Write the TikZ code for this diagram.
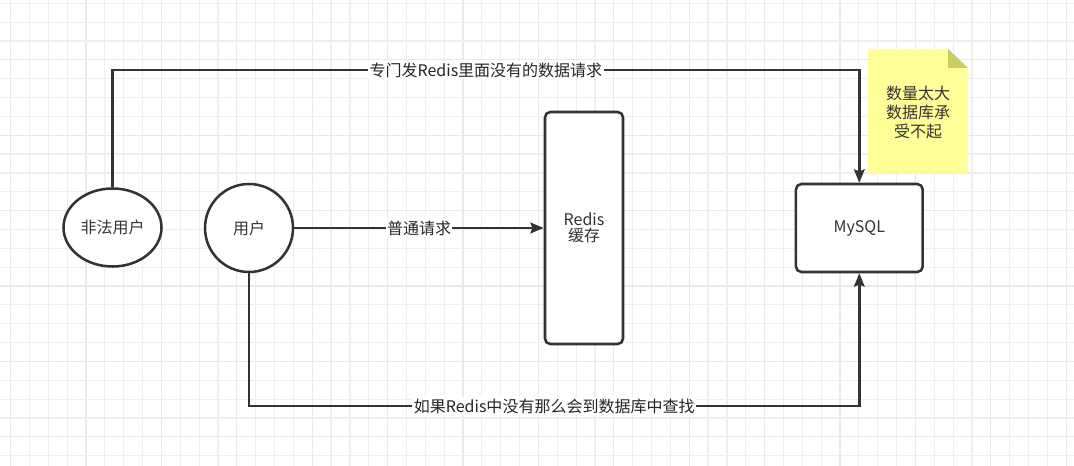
\documentclass[tikz,border=0pt]{standalone}
\usepackage{fontspec}
\setmainfont{Noto Sans CJK SC}
\usetikzlibrary{arrows.meta,shapes.geometric,calc}
\definecolor{ln}{HTML}{333333}
\definecolor{gridl}{HTML}{EEEEEE}
\definecolor{gridd}{HTML}{E9E9E9}
\definecolor{notey}{HTML}{FFFF99}
\definecolor{notef}{HTML}{CCCC66}
\begin{document}
\begin{tikzpicture}[x=0.75pt,y=-0.75pt,
  conn/.style={draw=ln, line width=1.9pt, -{Stealth[length=10pt,width=8pt,inset=1.5pt]}},
  lbl/.style={fill=white, inner sep=1pt, font=\fontsize{12}{14}\selectfont, text=black!85},
  shp/.style={draw=ln, line width=1.9pt, fill=white, inner sep=0pt, text=ln, font=\fontsize{12}{14}\selectfont, align=center},
  userell/.style={shp, ellipse},
  boxr/.style={shp, rectangle, rounded corners=4pt}
]
\useasboundingbox (0,0) rectangle (1074,466);
\fill[white] (0,0) rectangle (1074,466);
% grid
\foreach \k in {0,...,56}{
  \pgfmathsetmacro{\xx}{10.6+18.85*\k}
  \pgfmathtruncatemacro{\m}{mod(\k,4)}
  \ifnum\m=0 \draw[gridd, line width=0.9pt] (\xx,0) -- (\xx,466);
  \else \draw[gridl, line width=0.9pt] (\xx,0) -- (\xx,466); \fi
}
\foreach \k in {0,...,24}{
  \pgfmathsetmacro{\yy}{3.3+18.85*\k}
  \pgfmathtruncatemacro{\m}{mod(\k,4)}
  \ifnum\m=3 \draw[gridd, line width=0.9pt] (0,\yy) -- (1074,\yy);
  \else \draw[gridl, line width=0.9pt] (0,\yy) -- (1074,\yy); \fi
}
% nodes
\node[userell, minimum width=73.5pt, minimum height=58.5pt] (ill) at (112.5,227.5) {非法用户};
\node[userell, minimum width=66pt, minimum height=66pt] (user) at (249,228) {用户};
\node[boxr, minimum width=58.5pt, minimum height=174pt] (redis) at (584,228) {Redis\\[-2pt]缓存};
\node[boxr, minimum width=95pt, minimum height=66pt] (mysql) at (859.3,228) {MySQL};
% note
\fill[notey] (868,49) -- (948,49) -- (968,68) -- (968,173) -- (868,173) -- cycle;
\fill[notef] (948,49) -- (968,68) -- (948,68) -- cycle;
\node[text=ln, font=\fontsize{12}{14.25}\selectfont, align=center] (note) at (918,112) {数量太大\\数据库承\\受不起};
% connectors
\draw[conn] (ill.north) -- (ill.north |- 0,70) -| (mysql.north) node[pos=0.25, lbl] {专门发Redis里面没有的数据请求};
\draw[conn] (user.east) -- (redis.west) node[midway, lbl] {普通请求};
\draw[conn] (user.south) -- (user.south |- 0,406) -| (mysql.south) node[pos=0.25, lbl] {如果Redis中没有那么会到数据库中查找};
\end{tikzpicture}
\end{document}
